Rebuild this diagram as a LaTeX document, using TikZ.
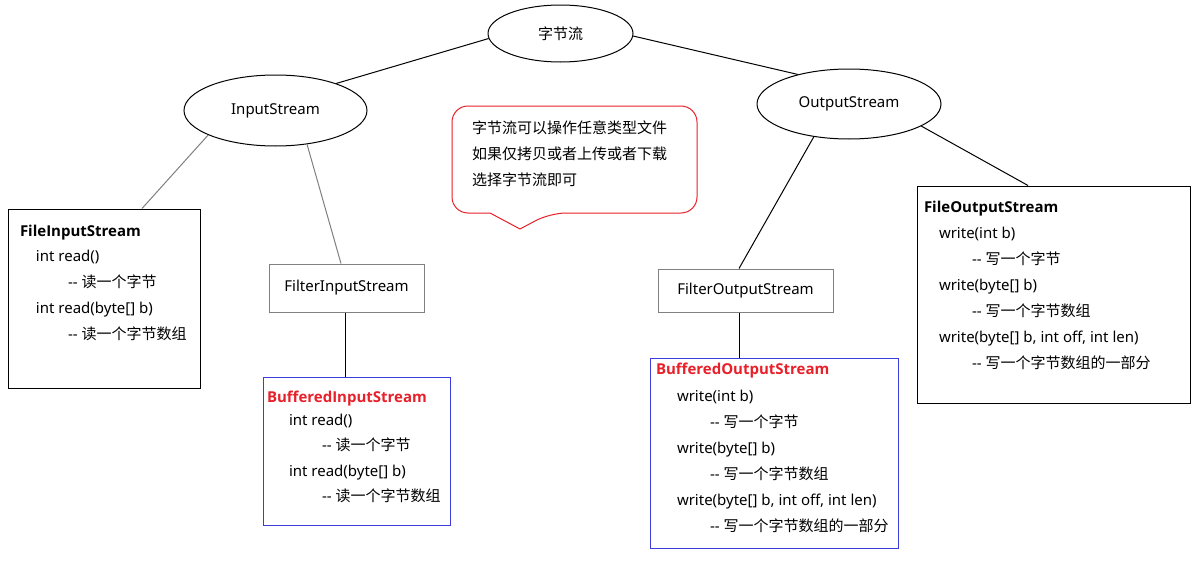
\documentclass[tikz,border=0pt]{standalone}
\usepackage{fontspec}
\setmainfont{Noto Sans}[Ligatures=TeXOff]
\newfontfamily\ttlf{Open Sans}[Ligatures=TeXOff]
\newfontfamily\cjkf{Noto Sans CJK SC}
\usetikzlibrary{shapes.geometric,calc}
\definecolor{boxblue}{RGB}{60,60,220}
\definecolor{titlered}{RGB}{232,32,42}
\definecolor{lgray}{RGB}{128,128,128}
\tikzset{
  ell/.style={ellipse, draw=black, line width=0.75pt, inner sep=0},
  boxk/.style={rectangle, draw=black, line width=0.75pt, inner sep=0},
  boxg/.style={rectangle, draw=lgray, line width=0.75pt, inner sep=0},
  boxb/.style={rectangle, draw=boxblue, line width=0.75pt, inner sep=0},
  txt/.style={anchor=base west, inner sep=0, outer sep=0},
  ttl/.style={txt, font=\fontsize{11.25pt}{14pt}\selectfont\ttlf\bfseries},
  rttl/.style={ttl, text=titlered},
  conn/.style={line width=0.75pt, draw=black},
  gconn/.style={line width=0.75pt, draw=lgray},
  callout/.style={line width=0.75pt, draw=titlered},
}
\begin{document}
\begin{tikzpicture}[x=0.75pt, y=-0.75pt, font=\fontsize{11.25pt}{14pt}\selectfont]
\useasboundingbox[fill=white] (0,0) rectangle (1196,564);

% ellipses
\node[ell, minimum width=108.75pt, minimum height=42.75pt] (root) at (560.5,33.5) {\cjkf 字节流};
\node[ell, minimum width=137.25pt, minimum height=53.25pt] (in) at (275.5,110.5) {InputStream};
\node[ell, minimum width=138pt, minimum height=52.5pt] (out) at (849,104) {OutputStream};

% boxes
\node[boxk, minimum width=144pt, minimum height=134.25pt] (fis) at (104,298.5) {};
\node[boxg, minimum width=116.25pt, minimum height=36pt] (fil) at (346.5,288) {FilterInputStream};
\node[boxb, minimum width=140.25pt, minimum height=111pt] (bis) at (356.5,451) {};
\node[boxg, minimum width=131.25pt, minimum height=32.25pt] (fol) at (745.5,290.5) {FilterOutputStream};
\node[boxb, minimum width=186pt, minimum height=142.5pt] (bos) at (774,453) {};
\node[boxk, minimum width=204.75pt, minimum height=162.75pt] (fos) at (1053.5,294.5) {};

% callout
\draw[callout, rounded corners=12pt] (490,213) -- (452,213) -- (452,106) -- (697,106) -- (697,213) -- (550,213) [sharp corners] -- (520,229) -- cycle;
\node[txt] (c1) at (472,133) {\cjkf 字节流可以操作任意类型文件};
\node[txt] (c2) at (472,159) {\cjkf 如果仅拷贝或者上传或者下载};
\node[txt] (c3) at (472,185) {\cjkf 选择字节流即可};

% FileInputStream text
\node[ttl] (fisT) at (20,236) {FileInputStream};
\node[txt] (fis1) at (36,261) {int read()};
\node[txt] (fis2) at (68,287) {-- {\cjkf 读一个字节}};
\node[txt] (fis3) at (36,313) {int read(byte[] b)};
\node[txt] (fis4) at (68,339) {-- {\cjkf 读一个字节数组}};

% BufferedInputStream text
\node[rttl] (bisT) at (267,402) {BufferedInputStream};
\node[txt] (bis1) at (289,425) {int read()};
\node[txt] (bis2) at (322,450) {-- {\cjkf 读一个字节}};
\node[txt] (bis3) at (289,476) {int read(byte[] b)};
\node[txt] (bis4) at (322,501) {-- {\cjkf 读一个字节数组}};

% BufferedOutputStream text
\node[rttl] (bosT) at (656,374) {BufferedOutputStream};
\node[txt] (bos1) at (677,401) {write(int b)};
\node[txt] (bos2) at (710,427) {-- {\cjkf 写一个字节}};
\node[txt] (bos3) at (677,453) {write(byte[] b)};
\node[txt] (bos4) at (710,479) {-- {\cjkf 写一个字节数组}};
\node[txt] (bos5) at (677,505) {write(byte[] b, int off, int len)};
\node[txt] (bos6) at (710,531) {-- {\cjkf 写一个字节数组的一部分}};

% FileOutputStream text
\node[ttl] (fosT) at (924,212) {FileOutputStream};
\node[txt] (fos1) at (939,238) {write(int b)};
\node[txt] (fos2) at (972,264) {-- {\cjkf 写一个字节}};
\node[txt] (fos3) at (939,290) {write(byte[] b)};
\node[txt] (fos4) at (972,316) {-- {\cjkf 写一个字节数组}};
\node[txt] (fos5) at (939,342) {write(byte[] b, int off, int len)};
\node[txt] (fos6) at (972,368) {-- {\cjkf 写一个字节数组的一部分}};

% connectors
\draw[conn] (root.184) -- (in.24);
\draw[conn] (root.-2) -- (out.150);
\draw[gconn] (in.200) -- ($(fis.north)+(38,0)$);
\draw[gconn] (in.-47) -- ($(fil.north)+(-5.5,0)$);
\coordinate (fb) at ($(fil.south)+(-1.5,0)$);
\draw[conn] (fb) -- (fb |- bis.north);
\draw[conn] (out.223) -- ($(fol.north)+(-6.5,0)$);
\coordinate (fob) at ($(fol.south)+(-6.5,0)$);
\draw[conn] (fob) -- (fob |- bos.north);
\draw[conn] (out.-17) -- ($(fos.north)+(-25.5,0)$);
\end{tikzpicture}
\end{document}
